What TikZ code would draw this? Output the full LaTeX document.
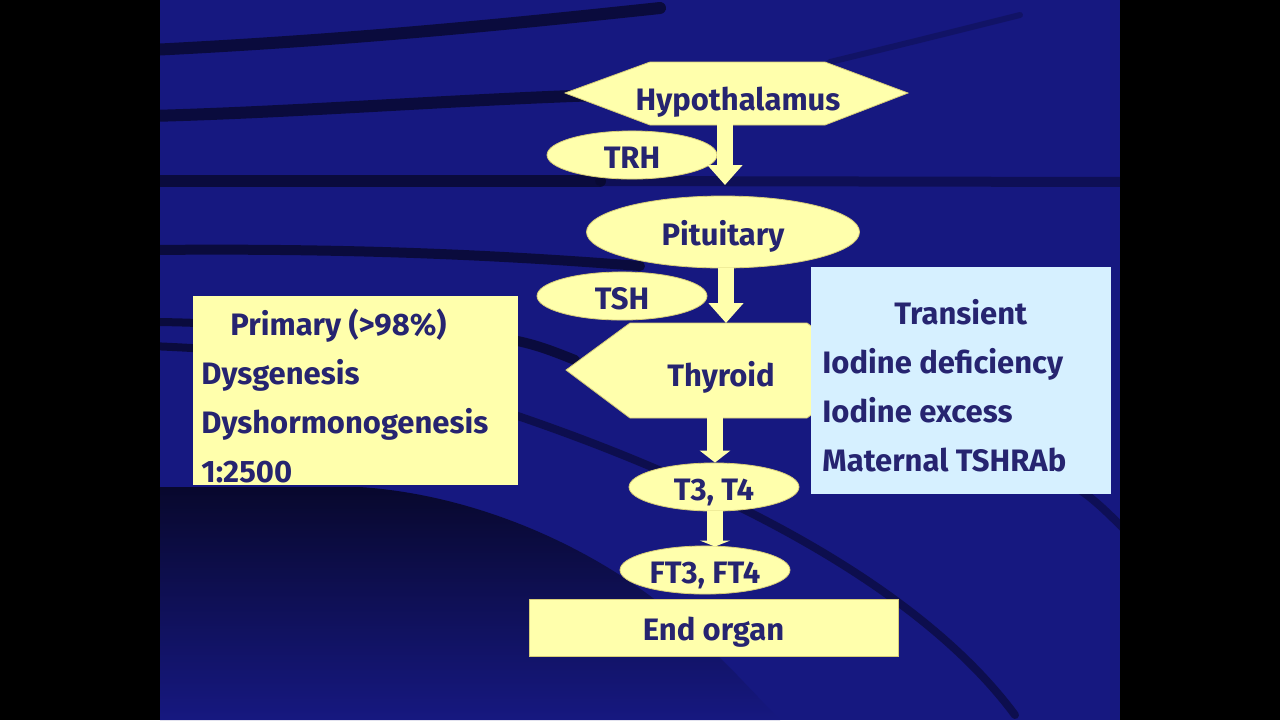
\documentclass[tikz,border=0pt]{standalone}
\usepackage{fontspec}
\setsansfont{Fira Sans}
\usetikzlibrary{shapes.geometric,arrows.meta}

\definecolor{slideblue}{RGB}{22,24,128}
\definecolor{swoosh}{RGB}{8,8,45}
\definecolor{paleyellow}{RGB}{255,255,172}
\definecolor{yellowline}{RGB}{215,205,120}
\definecolor{paleblue}{RGB}{214,240,255}
\definecolor{inkblue}{RGB}{38,36,112}

\tikzset{
  labeltext/.style={text=inkblue, font=\sffamily\bfseries\fontsize{15.5}{24.5}\selectfont},
  onelabel/.style={labeltext, text height=15pt, text depth=2pt},
  hormone/.style={ellipse, fill=paleyellow, draw=yellowline, line width=0.4pt, inner sep=0pt, onelabel},
  organ/.style={fill=paleyellow, draw=yellowline, line width=0.4pt},
  fatarrow/.style={draw=paleyellow, line width=8pt, -{Triangle[width=17pt,length=10pt]}},
  swooshline/.style={draw=swoosh, line cap=round, opacity=0.8},
  infobox/.style={rectangle, inner sep=0pt, anchor=north west},
}

\begin{document}
\begin{tikzpicture}[x=0.5pt, y=-0.5pt]
  \useasboundingbox (0,0) rectangle (1280,720);
  % slide and black side bars
  \fill[black] (0,0) rectangle (1280,720);
  \fill[slideblue] (160,0) rectangle (1120,720);

  % background swooshes
  \begin{scope}
    \clip (160,0) rectangle (1120,720);
    \draw[swooshline, line width=6pt] (150,50) .. controls (350,40) and (500,25) .. (660,8);
    \draw[swooshline, line width=3pt, opacity=0.3] (830,62) .. controls (900,45) and (960,30) .. (1020,15);
    \draw[swooshline, line width=6pt] (150,116) .. controls (300,112) and (450,100) .. (600,95);
    \draw[swooshline, line width=6pt] (150,181) -- (600,181);
    \draw[swooshline, line width=5pt, opacity=0.5] (600,181) -- (1130,182);
    \draw[swooshline, line width=5pt] (150,250) .. controls (350,248) and (500,255) .. (640,266);
    \draw[swooshline, line width=4pt] (150,322) .. controls (200,322) and (260,326) .. (300,330);
    \draw[swooshline, line width=4pt] (150,346) .. controls (200,348) and (260,352) .. (300,356);
    \draw[swooshline, line width=5pt] (500,338) .. controls (530,342) and (550,350) .. (575,360);
    \draw[swooshline, line width=4pt, opacity=0.6] (500,410) .. controls (650,460) and (900,560) .. (1015,715);
    \draw[swooshline, line width=4pt, opacity=0.5] (1080,490) .. controls (1095,500) and (1110,515) .. (1125,530);
    \shade[top color=swoosh, bottom color=slideblue]
      (160,487) -- (360,487) .. controls (480,495) and (600,550) .. (680,620)
      .. controls (730,665) and (760,700) .. (780,720) -- (160,720) -- cycle;
  \end{scope}

  % hypothalamus
  \fill[organ] (565,93) -- (650,62) -- (825,62) -- (908,93) -- (825,125) -- (650,125) -- cycle;
  \node[onelabel] (hyp) at (738,97) {Hypothalamus};
  \node[hormone, minimum width=85pt, minimum height=18pt] (trh) at (632,155) {TRH};

  % pituitary
  \node[hormone, minimum width=136.5pt, minimum height=36pt] (pit) at (723,232) {Pituitary};
  \node[hormone, minimum width=85pt, minimum height=19pt] (tsh) at (622,296) {TSH};

  % thyroid
  \fill[organ] (566,370) -- (630,323) -- (807,323) -- (871,370) -- (807,418) -- (630,418) -- cycle;
  \node[onelabel] (thy) at (721,373) {Thyroid};
  \coordinate (thytop) at (726,323);
  \coordinate (thybot) at (715,410);

  % hormones and end organ
  \node[hormone, minimum width=85pt, minimum height=20pt] (t34) at (714,487) {T3, T4};
  \node[hormone, minimum width=85pt, minimum height=20pt] (ft34) at (705,570) {FT3, FT4};
  \node[organ, onelabel, minimum width=184.5pt, minimum height=28.5pt] (end) at (713.5,627.5) {End organ};

  % arrows
  \draw[fatarrow] (hyp.south -| 725,0) -- (725,185);
  \draw[fatarrow] (pit.south -| thytop) -- (thytop);
  \draw[fatarrow, -{Triangle[width=15pt,length=6pt]}] (thybot) -- (t34.north -| thybot);
  \draw[fatarrow, -{Triangle[width=15pt,length=3pt]}] (t34.south -| thybot) -- ([yshift=-0.5pt]ft34.north -| thybot);

  % primary causes
  \node[infobox, fill=paleyellow, minimum width=162.5pt, minimum height=94.5pt] (primary) at (193,296) {};
  \node[labeltext, anchor=north west, inner sep=0pt, align=left] (primarytext) at (201,308)
    {\hspace*{14.5pt}Primary (>98\%)\\Dysgenesis\\Dyshormonogenesis\\1:2500};

  % transient causes
  \node[infobox, fill=paleblue, minimum width=150pt, minimum height=113.5pt] (transient) at (811,267) {};
  \node[labeltext, anchor=north west, inner sep=0pt, align=left] (transienttext) at (822,299)
    {\hspace*{36pt}Transient\\Iodine deficiency\\Iodine excess\\Maternal TSHRAb};
\end{tikzpicture}
\end{document}
